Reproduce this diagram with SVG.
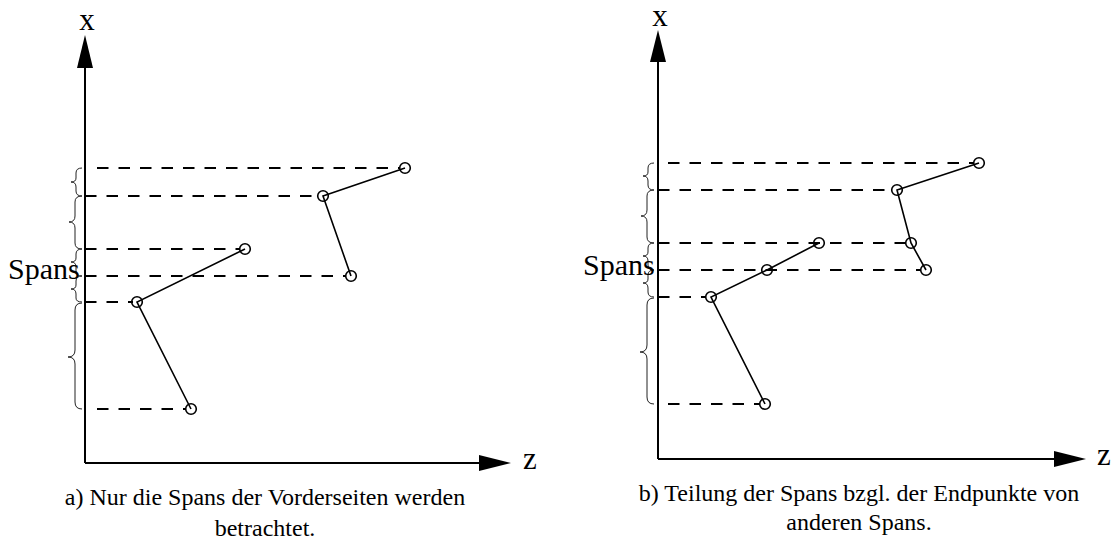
<svg xmlns="http://www.w3.org/2000/svg" width="1114" height="549" viewBox="0 0 1114 549">
  <style>
    .axis { stroke: #000; stroke-width: 2; fill: none; }
    .head { fill: #000; stroke: none; }
    .dash { stroke: #000; stroke-width: 2; stroke-dasharray: 11.5 10; fill: none; }
    .seg { stroke: #000; stroke-width: 1.6; fill: none; }
    .pt { stroke: #000; stroke-width: 1.6; fill: none; }
    .brace { stroke: #222; stroke-width: 1; fill: none; }
    .lbl { font-family: "Liberation Serif", "Times New Roman", serif; fill: #000; }
    .cap { font-family: "Liberation Serif", "Times New Roman", serif; font-size: 24px; fill: #000; text-anchor: middle; }
  </style>
  <rect width="1114" height="549" fill="#fff"/>

  <!-- Panel a: spans of front faces only -->
  <g id="panel-a">
    <g id="a-axes">
      <line class="axis" x1="85" y1="463" x2="85" y2="66"/>
      <polygon class="head" points="85,35 77,68 93,68"/>
      <line class="axis" x1="85" y1="463" x2="482" y2="463"/>
      <polygon class="head" points="511,463 479,455 479,471"/>
      <text class="lbl" x="87" y="30" font-size="31" text-anchor="middle">x</text>
      <text class="lbl" x="523" y="469" font-size="31">z</text>
    </g>
    <g id="a-projections">
      <line class="dash" x1="97" y1="168" x2="400" y2="168"/>
      <line class="dash" x1="85" y1="196" x2="318" y2="196"/>
      <line class="dash" x1="85" y1="249" x2="240" y2="249"/>
      <line class="dash" x1="85" y1="276" x2="346" y2="276"/>
      <line class="dash" x1="85" y1="302" x2="133" y2="302"/>
      <line class="dash" x1="97" y1="409" x2="186" y2="409"/>
    </g>
    <g id="a-spans">
      <polyline class="seg" points="405,168 323,196 351,276"/>
      <polyline class="seg" points="245,249 137,302 191,409"/>
      <circle class="pt" cx="405" cy="168" r="5.3"/>
      <circle class="pt" cx="323" cy="196" r="5.3"/>
      <circle class="pt" cx="351" cy="276" r="5.3"/>
      <circle class="pt" cx="245" cy="249" r="5.3"/>
      <circle class="pt" cx="137" cy="302" r="5.3"/>
      <circle class="pt" cx="191" cy="409" r="5.3"/>
    </g>
    <g id="a-braces">
      <path class="brace" d="M82,168 Q76,168 76,173 L76,178 Q76,182 71,182 Q76,182 76,187 L76,191 Q76,196 82,196"/>
      <path class="brace" d="M82,196 Q75,196 75,202 L75,216 Q75,222 69,222 Q75,222 75,228 L75,243 Q75,249 82,249"/>
      <path class="brace" d="M82,249 Q76,249 76,254 L76,258 Q76,262 71,262 Q76,262 76,267 L76,271 Q76,276 82,276"/>
      <path class="brace" d="M82,276 Q76,276 76,281 L76,285 Q76,289 71,289 Q76,289 76,294 L76,298 Q76,302 82,302"/>
      <path class="brace" d="M82,303 Q75,303 75,310 L75,350 Q75,357 68,357 Q75,357 75,364 L75,402 Q75,409 82,409"/>
    </g>
    <text class="lbl" x="8" y="279" font-size="30">Spans</text>
    <text class="cap" x="265" y="505">a) Nur die Spans der Vorderseiten werden</text>
    <text class="cap" x="265" y="536">betrachtet.</text>
  </g>

  <!-- Panel b: spans split at the end points of other spans -->
  <g id="panel-b">
    <g id="b-axes">
      <line class="axis" x1="658" y1="459" x2="658" y2="60"/>
      <polygon class="head" points="658,30 650,62 666,62"/>
      <line class="axis" x1="658" y1="459" x2="1056" y2="459"/>
      <polygon class="head" points="1086,459 1054,451 1054,467"/>
      <text class="lbl" x="660" y="26" font-size="31" text-anchor="middle">x</text>
      <text class="lbl" x="1097" y="465" font-size="31">z</text>
    </g>
    <g id="b-projections">
      <line class="dash" x1="668" y1="163" x2="974" y2="163"/>
      <line class="dash" x1="658" y1="190" x2="892" y2="190"/>
      <line class="dash" x1="658" y1="243" x2="906" y2="243"/>
      <line class="dash" x1="658" y1="270" x2="921" y2="270"/>
      <line class="dash" x1="658" y1="297" x2="706" y2="297"/>
      <line class="dash" x1="668" y1="404" x2="760" y2="404"/>
    </g>
    <g id="b-spans">
      <polyline class="seg" points="979,163 897,190 911,243 926,270"/>
      <polyline class="seg" points="819,243 767,270 711,297 765,404"/>
      <circle class="pt" cx="979" cy="163" r="5.3"/>
      <circle class="pt" cx="897" cy="190" r="5.3"/>
      <circle class="pt" cx="911" cy="243" r="5.3"/>
      <circle class="pt" cx="926" cy="270" r="5.3"/>
      <circle class="pt" cx="819" cy="243" r="5.3"/>
      <circle class="pt" cx="767" cy="270" r="5.3"/>
      <circle class="pt" cx="711" cy="297" r="5.3"/>
      <circle class="pt" cx="765" cy="404" r="5.3"/>
    </g>
    <g id="b-braces">
      <path class="brace" d="M654,163 Q648,163 648,168 L648,172 Q648,176 643,176 Q648,176 648,181 L648,185 Q648,190 654,190"/>
      <path class="brace" d="M654,190 Q647,190 647,196 L647,210 Q647,216 641,216 Q647,216 647,222 L647,237 Q647,243 654,243"/>
      <path class="brace" d="M654,243 Q648,243 648,248 L648,252 Q648,256 643,256 Q648,256 648,261 L648,265 Q648,270 654,270"/>
      <path class="brace" d="M654,270 Q648,270 648,275 L648,279 Q648,283 643,283 Q648,283 648,288 L648,292 Q648,297 654,297"/>
      <path class="brace" d="M654,298 Q647,298 647,305 L647,345 Q647,352 640,352 Q647,352 647,359 L647,397 Q647,404 654,404"/>
    </g>
    <text class="lbl" x="583" y="275" font-size="30">Spans</text>
    <text class="cap" x="859" y="501">b) Teilung der Spans bzgl. der Endpunkte von</text>
    <text class="cap" x="859" y="530">anderen Spans.</text>
  </g>
</svg>
